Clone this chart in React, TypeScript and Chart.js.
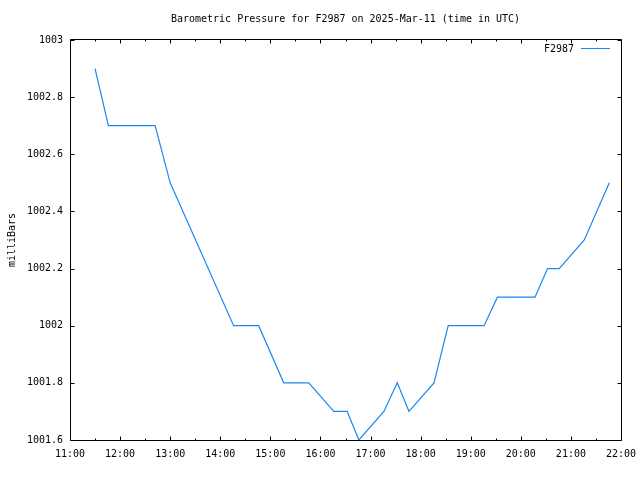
import React, { useEffect, useRef } from "react";
import { Chart, registerables } from "chart.js";

Chart.register(...registerables);

const TITLE = "Barometric Pressure for F2987 on 2025-Mar-11 (time in UTC)";
const SERIES_NAME = "F2987";
const Y_LABEL = "milliBars";

const times = [
  "11:30", "11:46", "12:42", "13:00", "14:16", "14:46", "15:16", "15:46",
  "16:16", "16:32", "16:46", "17:16", "17:32", "17:46", "18:16", "18:33",
  "19:16", "19:32", "20:17", "20:32", "20:46", "21:16", "21:46",
];
const pressure = [
  1002.9, 1002.7, 1002.7, 1002.5, 1002.0, 1002.0, 1001.8, 1001.8,
  1001.7, 1001.7, 1001.6, 1001.7, 1001.8, 1001.7, 1001.8, 1002.0,
  1002.0, 1002.1, 1002.1, 1002.2, 1002.2, 1002.3, 1002.5,
];

const X_MIN = "11:00";
const X_MAX = "22:00";
const Y_MIN = 1001.6;
const Y_MAX = 1003;
const Y_STEP = 0.2;

const FONT = "'DejaVu Sans Mono', 'Liberation Mono', monospace";
const LINE_COLOR = "#1a88f2";

const toMin = (t: string) => {
  const [h, m] = t.split(":").map(Number);
  return h * 60 + m;
};
const fmtTime = (v: number) => {
  const h = Math.floor(v / 60);
  const m = Math.round(v - h * 60);
  return `${h}:${m < 10 ? "0" + m : m}`;
};

const framePlugin = {
  id: "gnuframe",
  afterDraw(chart: any) {
    const { ctx, chartArea } = chart;
    const xs = chart.scales.x;
    const ys = chart.scales.y;
    const L = Math.round(chartArea.left) + 0.5;
    const R = Math.round(chartArea.right) + 0.5;
    const T = Math.round(chartArea.top) - 0.5;
    const B = Math.round(chartArea.bottom) + 0.5;
    ctx.save();
    ctx.strokeStyle = "#000";
    ctx.lineWidth = 1;
    ctx.beginPath();
    ctx.rect(L, T, R - L, B - T);
    // x ticks: major each hour, minor each half hour
    for (let v = xs.min; v <= xs.max + 0.001; v += 30) {
      const px = Math.round(xs.getPixelForValue(v)) + 0.5;
      const len = Math.round(v) % 60 === 0 ? 4 : 2;
      ctx.moveTo(px, B);
      ctx.lineTo(px, B - len);
      ctx.moveTo(px, T);
      ctx.lineTo(px, T + len);
    }
    ys.ticks.forEach((t: any) => {
      const py = Math.round(ys.getPixelForValue(t.value)) + 0.5;
      ctx.moveTo(L, py);
      ctx.lineTo(L + 4, py);
      ctx.moveTo(R, py);
      ctx.lineTo(R - 4, py);
    });
    ctx.stroke();

    // title
    ctx.fillStyle = "#000";
    ctx.font = `10px ${FONT}`;
    ctx.textAlign = "center";
    ctx.textBaseline = "middle";
    ctx.fillText(TITLE, (chartArea.left + chartArea.right) / 2, 19);

    // legend
    ctx.textAlign = "right";
    ctx.fillText(SERIES_NAME, 574, 49);
    ctx.strokeStyle = LINE_COLOR;
    ctx.beginPath();
    ctx.moveTo(581, 48.5);
    ctx.lineTo(610, 48.5);
    ctx.stroke();
    ctx.restore();
  },
};

export default function App() {
  const ref = useRef<HTMLCanvasElement | null>(null);
  useEffect(() => {
    if (!ref.current) return;
    const data = times.map((t, i) => ({ x: toMin(t), y: pressure[i] }));
    const chart = new Chart(ref.current, {
      type: "line",
      data: {
        datasets: [
          {
            label: SERIES_NAME,
            data,
            borderColor: LINE_COLOR,
            borderWidth: 1.2,
            pointRadius: 0,
            tension: 0,
            fill: false,
          },
        ],
      },
      options: {
        responsive: false,
        animation: false,
        layout: { padding: { top: 40, right: 19, bottom: 0, left: 0 } },
        plugins: {
          legend: { display: false },
          title: { display: false },
          tooltip: { enabled: false },
        },
        scales: {
          x: {
            type: "linear",
            min: toMin(X_MIN),
            max: toMin(X_MAX),
            afterFit: (s: any) => {
              s.height = 40;
              s.paddingLeft = 0;
              s.paddingRight = 0;
            },
            afterBuildTicks: (s: any) => {
              const out = [];
              for (let v = s.min; v <= s.max; v += 60) out.push({ value: v });
              s.ticks = out;
            },
            grid: { display: false, drawTicks: false },
            border: { display: false },
            ticks: {
              color: "#000",
              font: { family: FONT, size: 10 },
              padding: 8,
              maxRotation: 0,
              autoSkip: false,
              callback: (v: any) => fmtTime(Number(v)),
            },
          },
          y: {
            type: "linear",
            min: Y_MIN,
            max: Y_MAX,
            afterFit: (s: any) => {
              s.width = 70;
              s.paddingTop = 0;
              s.paddingBottom = 0;
            },
            grid: { display: false, drawTicks: false },
            border: { display: false },
            title: {
              display: true,
              text: Y_LABEL,
              color: "#000",
              font: { family: FONT, size: 10 },
              padding: { top: 6, bottom: 0 },
            },
            ticks: {
              stepSize: Y_STEP,
              color: "#000",
              font: { family: FONT, size: 10 },
              padding: 7,
              callback: (v: any) => String(parseFloat(Number(v).toFixed(1))),
            },
          },
        },
      },
      plugins: [framePlugin],
    });
    return () => chart.destroy();
  }, []);
  return (
    <div style={{ position: "fixed", left: 0, top: 0, width: 640, height: 480, background: "#fff" }}>
      <canvas ref={ref} width={640} height={480} style={{ display: "block" }} />
    </div>
  );
}
